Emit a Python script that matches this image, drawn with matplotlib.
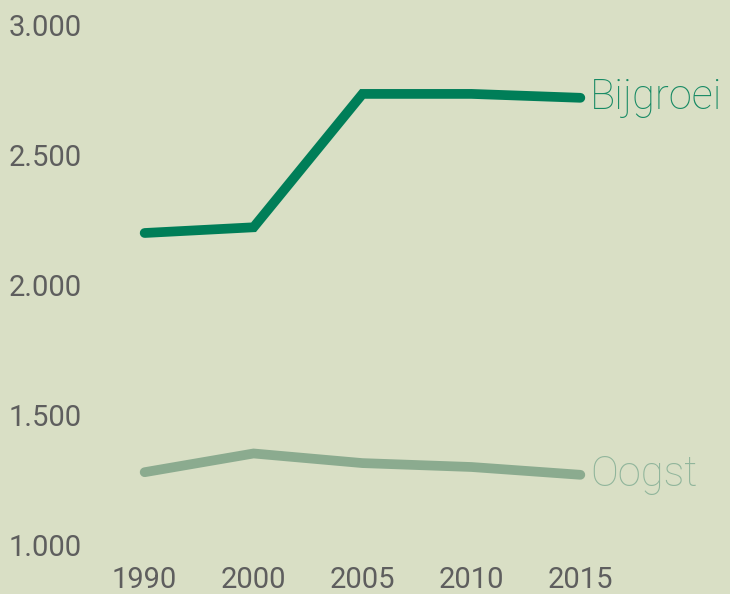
import matplotlib.pyplot as plt

jaren = ['1990', '2000', '2005', '2010', '2015']
bijgroei = [2200, 2222, 2735, 2735, 2720]
oogst = [1280, 1352, 1315, 1300, 1270]
yticks = [1000, 1500, 2000, 2500, 3000]
ytick_labels = ['1.000', '1.500', '2.000', '2.500', '3.000']

bg = '#d9dfc5'
groen = '#007e58'
licht = '#8bab8f'

plt.rcParams['font.family'] = ['Roboto', 'DejaVu Sans']

fig = plt.figure(figsize=(7.3, 5.94), dpi=100, facecolor=bg)
ax = fig.add_axes([100 / 730, 49 / 594, 525 / 730, 520 / 594])
ax.set_facecolor(bg)

x = list(range(len(jaren)))
ax.plot(x, bijgroei, color=groen, lw=7, solid_capstyle='round', solid_joinstyle='miter')
ax.plot(x, oogst, color=licht, lw=7, solid_capstyle='round', solid_joinstyle='miter')

ax.annotate('Bijgroei', (x[-1], bijgroei[-1]), xytext=(7, 0), textcoords='offset points',
            va='center', ha='left', fontsize=30, color='#178a64', fontweight='light')
ax.annotate('Oogst', (x[-1], oogst[-1]), xytext=(7, 0), textcoords='offset points',
            va='center', ha='left', fontsize=30, color='#90b59b', fontweight='light')

ax.set_xlim(-0.41, 4.41)
ax.set_ylim(1000, 3000)
ax.set_xticks(x)
ax.set_xticklabels(jaren)
ax.set_yticks(yticks)
ax.set_yticklabels(ytick_labels, ha='left')
ax.tick_params(axis='y', length=0, pad=66, labelsize=21, labelcolor='#5e5e5e')
ax.tick_params(axis='x', length=0, pad=15, labelsize=21, labelcolor='#5e5e5e')
for s in ax.spines.values():
    s.set_visible(False)

fig.savefig('out.png', dpi=100, facecolor=bg)
